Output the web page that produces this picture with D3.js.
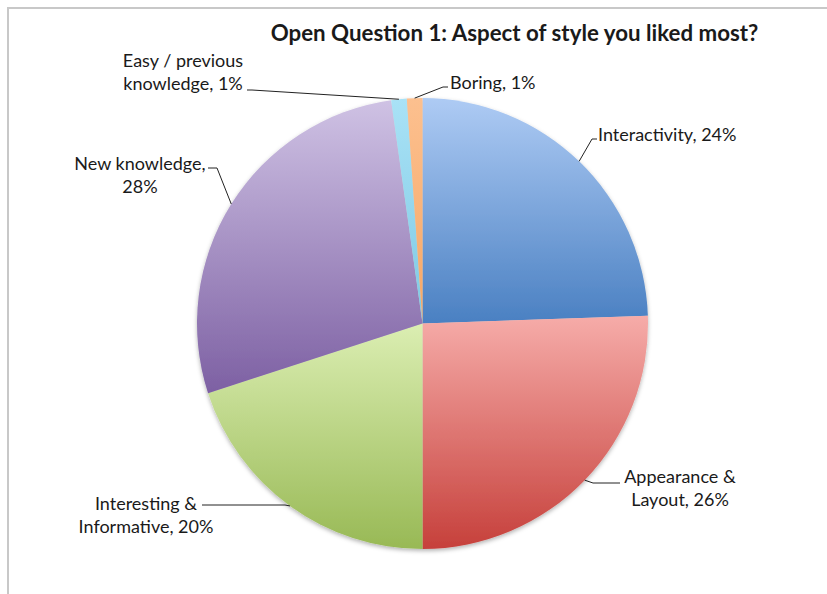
<!DOCTYPE html>
<html>
<head>
<meta charset="utf-8">
<script src="https://cdn.jsdelivr.net/npm/d3@7"></script>
<style>
  html, body { margin: 0; padding: 0; background: #fff; }
  svg { display: block; }
  text { font-family: Lato, "Open Sans", sans-serif; fill: #1a1a1a; }
</style>
</head>
<body>
<svg id="chart" width="827" height="594"></svg>
<script>
// ---- data ----
const title = "Open Question 1: Aspect of style you liked most?";
const categories = ["Interactivity", "Appearance & Layout", "Interesting & Informative", "New knowledge", "Easy / previous knowledge", "Boring"];
const responses = [22, 23, 18, 25, 1, 1];
// label line breaks (text only)
const labelLines = [
  ["Interactivity, {p}"],
  ["Appearance &", "Layout, {p}"],
  ["Interesting &", "Informative, {p}"],
  ["New knowledge,", "{p}"],
  ["Easy / previous", "knowledge, {p}"],
  ["Boring, {p}"]
];
const topColors = ["#aecbf4", "#f6aca9", "#dbeeb2", "#cfc2e4", "#a9e2f6", "#fcc08f"];
const bottomColors = ["#4a80c2", "#c6403b", "#98b955", "#7d60a3", "#7fc9e3", "#f7a765"];

// ---- layout ----
const W = 827, H = 594;
const cx = 422.5, cy = 323.5, R = 225.5;
// label layout relative to pie centre: leader elbow, leader end, text anchor, alignment
const labelLayout = [
  { elbow: [169.5, -184.5], end: [174.5, -184.5], tx: 175.5, ty: -182.5, anchor: "start" },
  { elbow: [170.5, 159.5],  end: [197.5, 159.5],  tx: 257.5, ty: 159.5,  anchor: "middle" },
  { elbow: [-137.5, 181.5], end: [-220.5, 181.5], tx: -276.5, ty: 186.5, anchor: "middle" },
  { elbow: [-205.5, -155.5], end: [-214.5, -155.5], tx: -282.5, ty: -153.5, anchor: "middle" },
  { elbow: [-170.5, -233.5], end: [-175.5, -233.5], tx: -239.5, ty: -256.5, anchor: "middle" },
  { elbow: [20.5, -236.5],  end: [25.5, -236.5],  tx: 27.5, ty: -234.5,  anchor: "start" }
];

const svg = d3.select("#chart");
const defs = svg.append("defs");

// frame
svg.append("rect")
  .attr("x", 8).attr("y", 8).attr("width", 1000).attr("height", 1000)
  .attr("fill", "none").attr("stroke", "#c8c8c8").attr("stroke-width", 2);

// gradients
categories.forEach((c, i) => {
  const g = defs.append("linearGradient")
    .attr("id", "grad" + i)
    .attr("x1", 0).attr("y1", 0).attr("x2", 0).attr("y2", 1);
  g.append("stop").attr("offset", "0%").attr("stop-color", topColors[i]);
  g.append("stop").attr("offset", "100%").attr("stop-color", bottomColors[i]);
});

const shadow = defs.append("filter").attr("id", "shadow")
  .attr("x", "-10%").attr("y", "-10%").attr("width", "120%").attr("height", "120%");
shadow.append("feDropShadow").attr("dx", 0).attr("dy", 2).attr("stdDeviation", 2)
  .attr("flood-color", "#000").attr("flood-opacity", 0.3);

const total = d3.sum(responses);
const pie = d3.pie().sort(null).value(d => d)(responses);
const arc = d3.arc().innerRadius(0).outerRadius(R);

const gPie = svg.append("g")
  .attr("transform", `translate(${cx},${cy})`)
  .attr("filter", "url(#shadow)");

gPie.selectAll("path").data(pie).join("path")
  .attr("d", arc)
  .attr("fill", (d, i) => `url(#grad${i})`);

// labels
const gLab = svg.append("g").attr("transform", `translate(${cx},${cy})`);
pie.forEach((d, i) => {
  const mid = (d.startAngle + d.endAngle) / 2;
  const edge = [R * Math.sin(mid), -R * Math.cos(mid)];
  const L = labelLayout[i];
  gLab.append("polyline")
    .attr("points", [edge, L.elbow, L.end].map(p => p.join(",")).join(" "))
    .attr("fill", "none").attr("stroke", "#222").attr("stroke-width", 1);
  const pct = Math.round(responses[i] / total * 100) + "%";
  const t = gLab.append("text")
    .attr("x", L.tx).attr("y", L.ty)
    .attr("text-anchor", L.anchor)
    .attr("font-size", 18);
  labelLines[i].forEach((line, j) => {
    t.append("tspan").attr("x", L.tx).attr("dy", j === 0 ? 0 : 23)
      .text(line.replace("{p}", pct));
  });
});

// title
svg.append("text")
  .attr("x", 514.5).attr("y", 41)
  .attr("text-anchor", "middle")
  .attr("font-size", 22.3).attr("font-weight", "bold")
  .text(title);
</script>
</body>
</html>
